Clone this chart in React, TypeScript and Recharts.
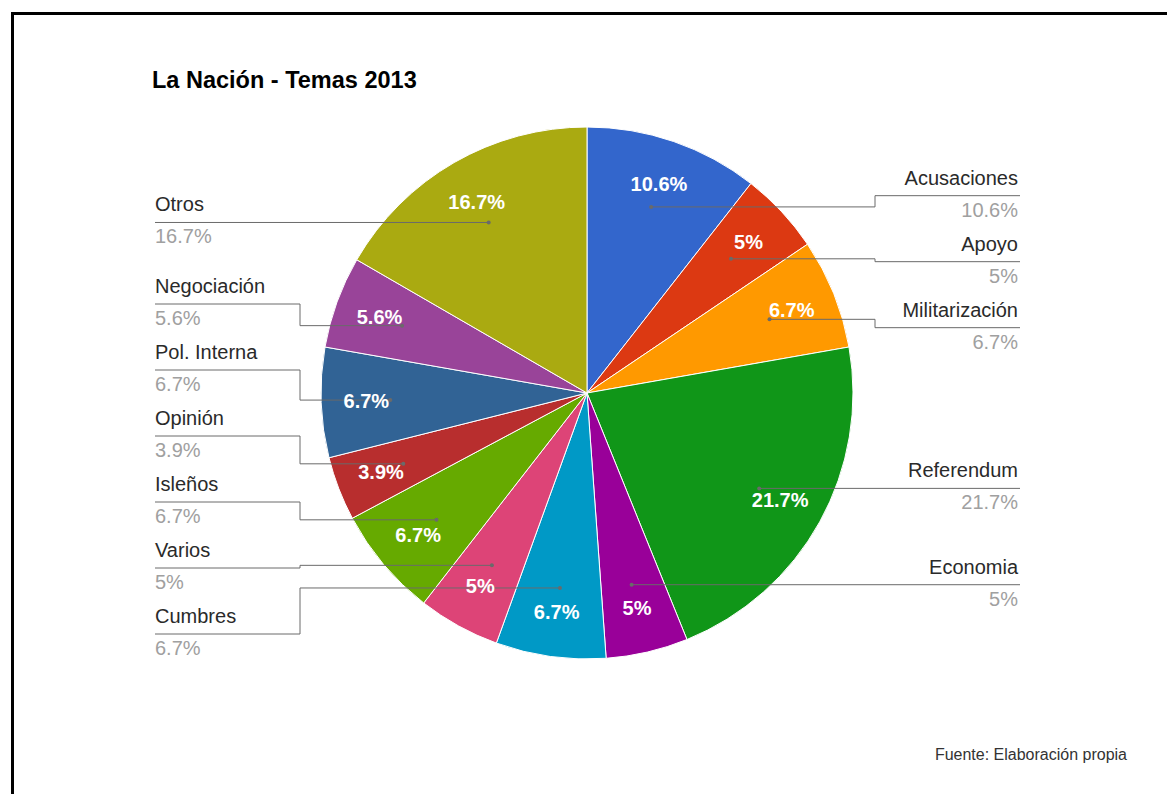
import { PieChart, Pie, Cell } from 'recharts'

// topic shares, clockwise from 12 o'clock
const topics = [
  'Acusaciones',
  'Apoyo',
  'Militarización',
  'Referendum',
  'Economia',
  'Cumbres',
  'Varios',
  'Isleños',
  'Opinión',
  'Pol. Interna',
  'Negociación',
  'Otros',
]
const shares = [10.6, 5, 6.7, 21.7, 5, 6.7, 5, 6.7, 3.9, 6.7, 5.6, 16.7]
const sliceColors = [
  '#3366cc',
  '#dc3912',
  '#ff9900',
  '#109618',
  '#990099',
  '#0099c6',
  '#dd4477',
  '#66aa00',
  '#b82e2e',
  '#316395',
  '#994499',
  '#aaaa11',
]

const chartData = topics.map((name, i) => ({ name, value: shares[i] }))

const CX = 587
const CY = 393
const RADIUS = 266
const ANCHOR_FRAC = 0.74
const INSIDE_FRAC = 0.83
const ROW_GAP = 66
const ROW_MIN = 150
const ROW_MAX = 634
const FONT = '"Liberation Sans", Arial, sans-serif'

// Outside labels: start each row at the height of its anchor point,
// then push overlapping rows apart (per side) keeping them inside the chart
function layoutRows(): number[] {
  const total = shares.reduce((a, b) => a + b, 0)
  let cum = 0
  const items = shares.map((v, i) => {
    const theta = ((cum + v / 2) / total) * 2 * Math.PI
    cum += v
    return { i, right: Math.sin(theta) >= 0, y: CY - RADIUS * ANCHOR_FRAC * Math.cos(theta) }
  })
  const rows: number[] = new Array(shares.length).fill(0)
  for (const right of [true, false]) {
    const side = items.filter(it => it.right === right).sort((a, b) => a.y - b.y)
    const groups = side.map(it => ({ members: [it], top: it.y }))
    while (true) {
      for (const g of groups) {
        const n = g.members.length
        const mean = g.members.reduce((s, m) => s + m.y, 0) / n
        const top = mean - ((n - 1) * ROW_GAP) / 2
        g.top = Math.max(ROW_MIN, Math.min(ROW_MAX - (n - 1) * ROW_GAP, top))
      }
      let k = 0
      while (k < groups.length - 1 && groups[k].top + groups[k].members.length * ROW_GAP <= groups[k + 1].top) k++
      if (k >= groups.length - 1) break
      groups[k].members = groups[k].members.concat(groups[k + 1].members)
      groups.splice(k + 1, 1)
    }
    groups.forEach(g => g.members.forEach((m, j) => { rows[m.i] = g.top + j * ROW_GAP }))
  }
  return rows
}

const rowY = layoutRows()

function renderLabel(props: any) {
  const { cx, cy, midAngle, outerRadius, index } = props
  const rad = Math.PI / 180
  const cos = Math.cos(-midAngle * rad)
  const sin = Math.sin(-midAngle * rad)
  const ax = cx + outerRadius * ANCHOR_FRAC * cos
  const ay = cy + outerRadius * ANCHOR_FRAC * sin
  const ix = cx + outerRadius * INSIDE_FRAC * cos
  const iy = cy + outerRadius * INSIDE_FRAC * sin
  const right = cos >= 0
  const elbowX = right ? cx + 288 : cx - 287
  const endX = right ? cx + 433 : cx - 432
  const textX = right ? endX - 2 : endX
  const y = rowY[index]
  const pct = `${shares[index]}%`

  return (
    <g key={`lbl-${index}`}>
      <path d={`M${ax},${ay}H${elbowX}V${y}H${endX}`} fill="none" stroke="#6a6a6a" strokeWidth={1} />
      <circle cx={ax} cy={ay} r={2} fill="#6a6a6a" />
      <text x={ix} y={iy} fill="#fff" fontFamily={FONT} fontSize={20} fontWeight="bold" textAnchor="middle" dominantBaseline="central">
        {pct}
      </text>
      <text x={textX} y={y - 11} fill="#2a2a2a" fontFamily={FONT} fontSize={20} textAnchor={right ? 'end' : 'start'}>
        {topics[index]}
      </text>
      <text x={textX} y={y + 21} fill="#a0a0a0" fontFamily={FONT} fontSize={20} textAnchor={right ? 'end' : 'start'}>
        {pct}
      </text>
    </g>
  )
}

export default function App() {
  return (
    <div style={{ position: 'absolute', left: 0, top: 0, width: 1167, height: 794, background: '#fff' }}>
      <div
        style={{
          position: 'absolute',
          left: 11,
          top: 12,
          width: 1156,
          height: 782,
          borderLeft: '3px solid #000',
          borderTop: '3px solid #000',
          boxSizing: 'border-box',
        }}
      />
      <PieChart width={1167} height={794} margin={{ top: 0, right: 0, bottom: 0, left: 0 }}>
        <Pie
          data={chartData}
          dataKey="value"
          nameKey="name"
          cx={CX}
          cy={CY}
          outerRadius={RADIUS}
          startAngle={90}
          endAngle={-270}
          stroke="#fff"
          strokeWidth={1}
          labelLine={false}
          label={renderLabel}
          isAnimationActive={false}
        >
          {chartData.map((d, i) => (
            <Cell key={d.name} fill={sliceColors[i]} />
          ))}
        </Pie>
      </PieChart>
      <svg width={1167} height={794} style={{ position: 'absolute', left: 0, top: 0, pointerEvents: 'none' }}>
        <text x={152} y={88} fontFamily={FONT} fontSize={23.5} fontWeight="bold" fill="#000">
          La Nación - Temas 2013
        </text>
        <text x={1127} y={760} fontFamily={FONT} fontSize={16} fill="#333" textAnchor="end">
          Fuente: Elaboración propia
        </text>
      </svg>
    </div>
  )
}
